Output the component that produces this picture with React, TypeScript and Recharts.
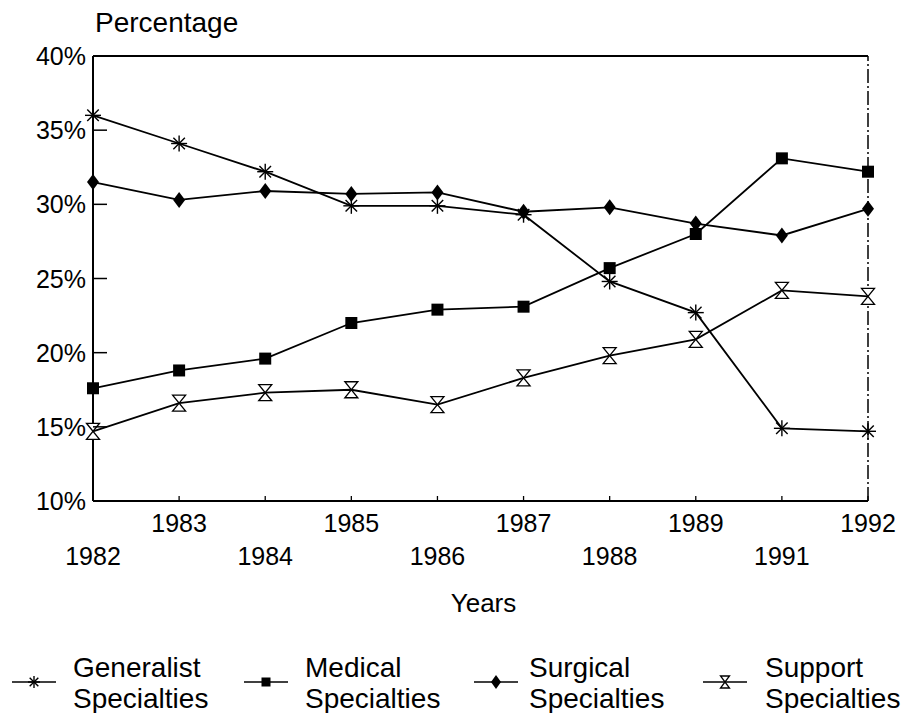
import React from 'react';
import {
  LineChart,
  Line,
  XAxis,
  YAxis,
  ReferenceLine
} from 'recharts';

const years = ['1982', '1983', '1984', '1985', '1986', '1987', '1988', '1989', '1991', '1992'];
const generalist = [36.0, 34.1, 32.2, 29.9, 29.9, 29.3, 24.8, 22.7, 14.9, 14.7];
const medical = [17.6, 18.8, 19.6, 22.0, 22.9, 23.1, 25.7, 28.0, 33.1, 32.2];
const surgical = [31.5, 30.3, 30.9, 30.7, 30.8, 29.5, 29.8, 28.7, 27.9, 29.7];
const support = [14.7, 16.6, 17.3, 17.5, 16.5, 18.3, 19.8, 20.9, 24.2, 23.8];
const yTicks = [10, 15, 20, 25, 30, 35, 40];
const seriesNames = ['Generalist', 'Medical', 'Surgical', 'Support'];

const data = years.map((year, i) => ({
  year,
  generalist: generalist[i],
  medical: medical[i],
  surgical: surgical[i],
  support: support[i],
}));

const FONT = '"Liberation Sans", Arial, Helvetica, sans-serif';

// marker shapes
const Star = ({ cx, cy, r = 8 }: any) => {
  const d = r * 0.72;
  return (
    <g stroke="#000" strokeWidth={1.4}>
      <line x1={cx} y1={cy - r} x2={cx} y2={cy + r} />
      <line x1={cx - d} y1={cy - d} x2={cx + d} y2={cy + d} />
      <line x1={cx - d} y1={cy + d} x2={cx + d} y2={cy - d} />
      <line x1={cx - r} y1={cy} x2={cx + r} y2={cy} />
    </g>
  );
};

const Square = ({ cx, cy, s = 6 }: any) => (
  <rect x={cx - s} y={cy - s} width={s * 2} height={s * 2} fill="#000" />
);

const Diamond = ({ cx, cy, w = 6, h = 8 }: any) => (
  <polygon
    points={`${cx},${cy - h} ${cx + w},${cy} ${cx},${cy + h} ${cx - w},${cy}`}
    fill="#000"
  />
);

const Hourglass = ({ cx, cy, w = 6.5, h = 8 }: any) => (
  <polygon
    points={`${cx - w},${cy - h} ${cx + w},${cy - h} ${cx - w},${cy + h} ${cx + w},${cy + h}`}
    fill="#fff"
    stroke="#000"
    strokeWidth={1.3}
    strokeLinejoin="miter"
  />
);

const markers: any[] = [Star, Square, Diamond, Hourglass];

const makeDot = (Shape: any, name: string) => (props: any) => {
  const { cx, cy, index } = props;
  if (cx == null || cy == null) return <g key={`${name}-${index}`} />;
  return <Shape key={`${name}-${index}`} cx={cx} cy={cy} />;
};

const YTick = (props: any) => {
  const { x, y, payload } = props;
  return (
    <g>
      <line x1={x} x2={x + 14} y1={y} y2={y} stroke="#000" strokeWidth={1.5} />
      <text x={x - 7} y={y + 9} textAnchor="end" fontSize={25} fontFamily={FONT} fill="#000">
        {payload.value}%
      </text>
    </g>
  );
};

const XTick = (props: any) => {
  const { x, y, payload, index } = props;
  const upper = index % 2 === 1;
  return (
    <g>
      <line x1={x} x2={x} y1={y} y2={y - 5} stroke="#000" strokeWidth={1.3} />
      <text x={x} y={y + (upper ? 31 : 64)} textAnchor="middle" fontSize={25} fontFamily={FONT} fill="#000">
        {payload.value}
      </text>
    </g>
  );
};

const Legendish = () => {
  const symX = [34, 266, 496, 725];
  const textX = [73, 305, 529, 765];
  return (
    <svg width={908} height={73} style={{ position: 'absolute', left: 0, top: 640 }}>
      {seriesNames.map((name, i) => {
        const Shape = markers[i];
        const small: any = [{ r: 6 }, { s: 4.5 }, { w: 5, h: 7 }, { w: 4.5, h: 6 }][i];
        return (
          <g key={name}>
            <line x1={symX[i] - 22} x2={symX[i] + 22} y1={42} y2={42} stroke="#000" strokeWidth={1.6} />
            <Shape cx={symX[i]} cy={42} {...small} />
            <text x={textX[i]} y={37} fontSize={28} fontFamily={FONT} fill="#000">{name}</text>
            <text x={textX[i]} y={68} fontSize={28} fontFamily={FONT} fill="#000">Specialties</text>
          </g>
        );
      })}
    </svg>
  );
};

export default function App() {
  const keys = ['generalist', 'medical', 'surgical', 'support'];
  return (
    <div style={{ position: 'absolute', left: 0, top: 0, width: 908, height: 713, background: '#fff' }}>
      <LineChart width={908} height={713} data={data} margin={{ top: 56, right: 40, bottom: 0, left: 0 }}>
        <XAxis
          dataKey="year"
          height={212}
          interval={0}
          tickSize={0}
          tickMargin={0}
          tickLine={false}
          tick={<XTick />}
          axisLine={{ stroke: '#000', strokeWidth: 2 }}
          label={{
            content: (p: any) => {
              const vb = p.viewBox;
              return (
                <text x={vb.x + vb.width / 2 + 3} y={vb.y + 111} textAnchor="middle" fontSize={26} fontFamily={FONT} fill="#000">
                  Years
                </text>
              );
            },
          }}
        />
        <YAxis
          width={93}
          domain={[10, 40]}
          ticks={yTicks}
          interval={0}
          tickSize={0}
          tickMargin={0}
          tickLine={false}
          tick={<YTick />}
          axisLine={{ stroke: '#000', strokeWidth: 2 }}
          label={{
            content: (p: any) => {
              const vb = p.viewBox;
              return (
                <text x={vb.x + vb.width + 2} y={vb.y - 24} fontSize={28} fontFamily={FONT} fill="#000">
                  Percentage
                </text>
              );
            },
          }}
        />
        <ReferenceLine y={40} stroke="#000" strokeWidth={2} />
        <ReferenceLine x="1992" stroke="#000" strokeWidth={1.5} strokeDasharray="14 3 2 3" />
        {keys.map((k, i) => (
          <Line
            key={k}
            dataKey={k}
            type="linear"
            stroke="#000"
            strokeWidth={1.8}
            isAnimationActive={false}
            dot={makeDot(markers[i], k)}
            activeDot={false}
          />
        ))}
      </LineChart>
      <Legendish />
    </div>
  );
}
